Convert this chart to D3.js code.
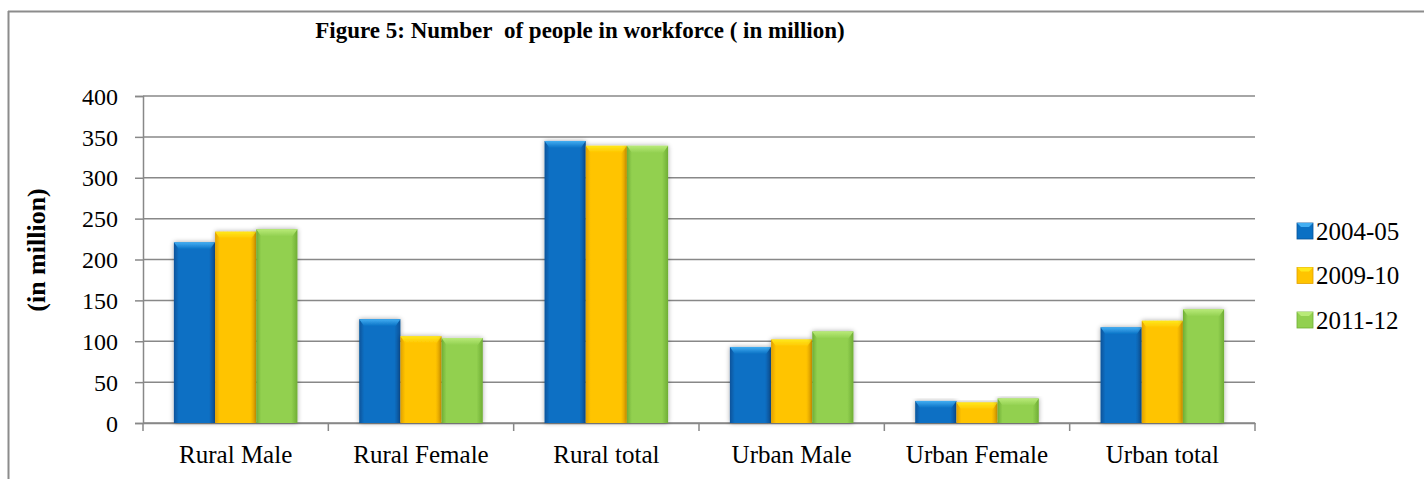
<!DOCTYPE html>
<html>
<head>
<meta charset="utf-8">
<script src="https://cdn.jsdelivr.net/npm/d3@7"></script>
<style>
  html, body { margin: 0; padding: 0; background: #fff; }
  svg { display: block; }
</style>
</head>
<body>
<svg id="chart" width="1424" height="479"></svg>
<script>
const categories = ["Rural Male", "Rural Female", "Rural total", "Urban Male", "Urban Female", "Urban total"];
const seriesNames = ["2004-05", "2009-10", "2011-12"];
const values2004 = [221, 127, 345, 93, 27, 117];
const values2009 = [234, 106, 339, 102, 25, 125];
const values2011 = [237, 104, 339, 112, 30, 139];
const yTicks = [0, 50, 100, 150, 200, 250, 300, 350, 400];
const titleText = "Figure 5: Number\u00a0\u00a0of people in workforce ( in million)";
const yLabel = "(in million)";

(function () {
const FONT = "'Liberation Serif', 'Times New Roman', serif";
const seriesValues = [values2004, values2009, values2011];
const baseColors = ["#0A70C4", "#FFC400", "#92D050"];
const lightColors = ["#42AEF2", "#FFE81A", "#B8EA78"];
const darkColors = ["#07539A", "#E0A000", "#6FAE34"];

const svg = d3.select("#chart");
const defs = svg.append("defs");

const f = defs.append("filter").attr("id", "shadow").attr("x", "-20%").attr("y", "-10%").attr("width", "140%").attr("height", "120%");
f.append("feGaussianBlur").attr("in", "SourceAlpha").attr("stdDeviation", 2.5).attr("result", "b");
f.append("feComponentTransfer").attr("in", "b").attr("result", "s")
  .append("feFuncA").attr("type", "linear").attr("slope", 0.35);
const m = f.append("feMerge");
m.append("feMergeNode").attr("in", "s");
m.append("feMergeNode").attr("in", "SourceGraphic");

seriesNames.forEach((s, i) => {
  const g = defs.append("linearGradient").attr("id", "grad" + i).attr("x1", "0").attr("x2", "1").attr("y1", "0").attr("y2", "0");
  g.append("stop").attr("offset", "0").attr("stop-color", darkColors[i]);
  g.append("stop").attr("offset", "0.12").attr("stop-color", baseColors[i]);
  g.append("stop").attr("offset", "0.85").attr("stop-color", baseColors[i]);
  g.append("stop").attr("offset", "1").attr("stop-color", darkColors[i]);
  const t = defs.append("linearGradient").attr("id", "cap" + i).attr("x1", "0").attr("x2", "0").attr("y1", "0").attr("y2", "1");
  t.append("stop").attr("offset", "0").attr("stop-color", lightColors[i]);
  t.append("stop").attr("offset", "1").attr("stop-color", baseColors[i]);
});

svg.append("line").attr("x1", 8).attr("x2", 1424).attr("y1", 11.5).attr("y2", 11.5).attr("stroke", "#8c8c8c").attr("stroke-width", 2);
svg.append("line").attr("x1", 8.5).attr("x2", 8.5).attr("y1", 11).attr("y2", 479).attr("stroke", "#8c8c8c").attr("stroke-width", 2);

const pLeft = 143, pRight = 1255, pTop = 96, pBottom = 423;
const x0 = d3.scaleBand().domain(categories).range([pLeft, pRight]).paddingInner(0).paddingOuter(0);
const C = x0.bandwidth();
const w = C / 4.5;
const x1 = d3.scaleBand().domain(seriesNames).range([0.75 * w, 3.75 * w]).padding(0);
const y = d3.scaleLinear().domain([0, 400]).range([pBottom, pTop]);

svg.append("g").selectAll("line").data(yTicks).join("line")
  .attr("x1", pLeft).attr("x2", pRight)
  .attr("y1", d => y(d)).attr("y2", d => y(d))
  .attr("stroke", "#888").attr("stroke-width", 1.5);

const yAxis = svg.append("g").attr("transform", `translate(${pLeft},0)`)
  .call(d3.axisLeft(y).tickValues(yTicks).tickSize(8).tickPadding(17));
yAxis.select(".domain").attr("stroke", "#888").attr("stroke-width", 1.5);
yAxis.selectAll(".tick line").attr("stroke", "#888").attr("stroke-width", 1.5);
yAxis.selectAll(".tick text").style("font-size", "24px").style("font-family", FONT).attr("fill", "#000").attr("dy", "0.34em");

const xAxis = svg.append("g").attr("transform", `translate(0,${pBottom})`)
  .call(d3.axisBottom(x0).tickSize(0));
xAxis.select(".domain").attr("stroke", "#888").attr("stroke-width", 1.5);
xAxis.selectAll(".tick text").style("font-size", "25px").style("font-family", FONT).attr("fill", "#000")
  .attr("y", 40).attr("dy", 0);
const bounds = categories.map(c => x0(c)).concat([pRight]);
svg.append("g").selectAll("line").data(bounds).join("line")
  .attr("x1", d => d).attr("x2", d => d).attr("y1", pBottom).attr("y2", pBottom + 8)
  .attr("stroke", "#888").attr("stroke-width", 1.5);

const groups = svg.append("g").selectAll("g").data(categories).join("g")
  .attr("transform", c => `translate(${x0(c)},0)`);
seriesNames.forEach((s, si) => {
  const bg = groups.append("g").attr("filter", "url(#shadow)");
  bg.append("rect")
    .attr("x", x1(s)).attr("width", x1.bandwidth())
    .attr("y", (c, ci) => y(seriesValues[si][ci]))
    .attr("height", (c, ci) => pBottom - y(seriesValues[si][ci]))
    .attr("fill", `url(#grad${si})`);
  bg.append("path")
    .attr("d", (c, ci) => {
      const yt = y(seriesValues[si][ci]);
      const xl = x1(s), xr = x1(s) + x1.bandwidth();
      const h = Math.min(7, (pBottom - yt) / 2);
      return `M${xl},${yt}L${xr},${yt}L${xr - 5},${yt + h}L${xl + 5},${yt + h}Z`;
    })
    .attr("fill", `url(#cap${si})`);
});

svg.append("text").attr("x", 580).attr("y", 38).attr("text-anchor", "middle")
  .style("font-family", FONT).style("font-size", "23px").style("font-weight", "bold").text(titleText);

svg.append("text").attr("transform", `translate(45,250) rotate(-90)`).attr("text-anchor", "middle")
  .style("font-family", FONT).style("font-size", "26px").style("font-weight", "bold").text(yLabel);

const legend = svg.append("g").selectAll("g").data(seriesNames).join("g")
  .attr("transform", (d, i) => `translate(1297,${231 + i * 44.5})`);
legend.append("rect").attr("x", 0).attr("y", -8).attr("width", 16).attr("height", 16)
  .attr("fill", (d, i) => baseColors[i]).attr("stroke", (d, i) => darkColors[i]).attr("stroke-width", 0.8);
legend.append("path").attr("d", "M0,-8L16,-8L12,-4L4,-4Z").attr("fill", (d, i) => lightColors[i]);
legend.append("text").attr("x", 19).attr("y", 0).attr("dy", "0.34em")
  .style("font-family", FONT).style("font-size", "25px").text(d => d);
})();
</script>
</body>
</html>
